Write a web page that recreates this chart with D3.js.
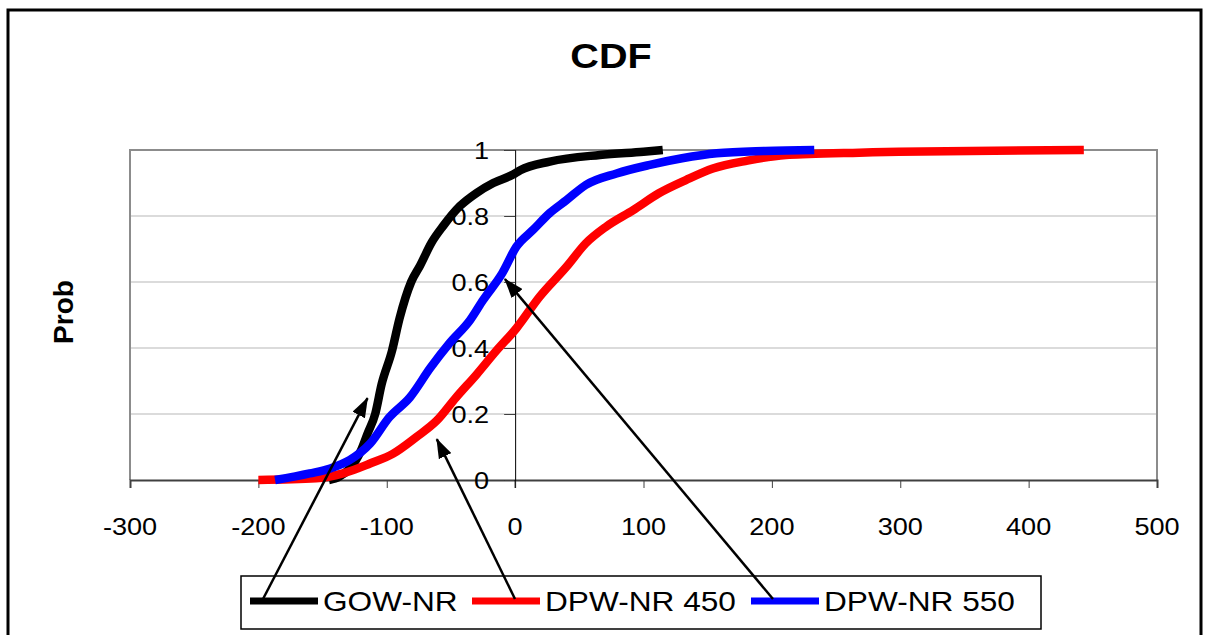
<!DOCTYPE html>
<html>
<head>
<meta charset="utf-8">
<script src="https://cdnjs.cloudflare.com/ajax/libs/d3/7.8.5/d3.min.js"></script>
<style>
  body { margin: 0; background: #fff; }
  #svg-container { width: 1208px; height: 635px; }
  text { font-family: "Liberation Sans", Arial, sans-serif; fill: #000; }
</style>
</head>
<body>
<div id="svg-container"></div>
<script>
// series names (legend order)
var seriesNames = ["GOW-NR", "DPW-NR 450", "DPW-NR 550"];
var seriesColors = ["#000000", "#ff0000", "#0000ff"];

var gowX = [-145, -137, -120, -115, -109, -104, -96, -90, -81, -74, -65, -56, -43, -30, -17, -2, 4, 27, 66, 100, 115];
var gowP = [0, 0.01, 0.09, 0.14, 0.2, 0.29, 0.39, 0.49, 0.6, 0.65, 0.72, 0.77, 0.83, 0.87, 0.9, 0.925, 0.939, 0.965, 0.985, 0.995, 1];

var dpw450X = [-200, -155, -134, -113, -95, -77, -61, -46, -30, -15, 1, 19, 40, 55, 71, 92, 112, 133, 154, 181, 211, 229, 268, 299, 443];
var dpw450P = [0, 0.005, 0.02, 0.05, 0.08, 0.13, 0.18, 0.25, 0.32, 0.39, 0.46, 0.555, 0.646, 0.717, 0.768, 0.818, 0.869, 0.909, 0.944, 0.968, 0.985, 0.988, 0.992, 0.995, 1];

var dpw550X = [-187, -160, -144, -129, -113, -98, -82, -66, -51, -35, -25, -10, 1, 14, 27, 40, 55, 79, 105, 130, 157, 195, 233];
var dpw550P = [0, 0.02, 0.035, 0.06, 0.11, 0.19, 0.25, 0.34, 0.415, 0.485, 0.545, 0.627, 0.707, 0.758, 0.809, 0.848, 0.894, 0.929, 0.955, 0.975, 0.99, 0.997, 1];

// axis ticks
var xTicks = [-300, -200, -100, 0, 100, 200, 300, 400, 500];
var yTicks = [0, 0.2, 0.4, 0.6, 0.8, 1];
var yTickLabels = ["0", "0.2", "0.4", "0.6", "0.8", "1"];

// arrow targets on the curves (data units), one per series
var arrowX = [-115, -61, -8];
var arrowP = [0.248, 0.124, 0.609];

var width = 1208, height = 635;
var plot = { left: 130, right: 1157, top: 150, bottom: 480 };
var stretch = 1.13;

var svg = d3.select("#svg-container")
            .append("svg")
            .attr("width", width)
            .attr("height", height);

var defs = svg.append("defs");
defs.append("marker")
    .attr("id", "arrow")
    .attr("viewBox", "0 0 20 14")
    .attr("refX", 19)
    .attr("refY", 7)
    .attr("markerWidth", 20)
    .attr("markerHeight", 14)
    .attr("markerUnits", "userSpaceOnUse")
    .attr("orient", "auto")
  .append("path")
    .attr("d", "M0,0 L20,7 L0,14 Z")
    .attr("fill", "#000");

// outer frame
svg.append("rect")
   .attr("x", 8).attr("y", 10)
   .attr("width", 1193).attr("height", 640)
   .attr("fill", "none")
   .attr("stroke", "#000")
   .attr("stroke-width", 3);

var scaleX = d3.scaleLinear().domain([-300, 500]).range([plot.left, plot.right]);
var scaleY = d3.scaleLinear().domain([0, 1]).range([plot.bottom, plot.top]);

function stretchedText(x, y, str, sx) {
  return svg.append("text")
    .attr("transform", "translate(" + x + "," + y + ") scale(" + (sx || stretch) + ",1)")
    .text(str);
}

// gridlines
svg.append("g")
   .selectAll("line")
   .data(yTicks.slice(1))
   .enter().append("line")
   .attr("x1", plot.left).attr("x2", plot.right)
   .attr("y1", function(d) { return scaleY(d); })
   .attr("y2", function(d) { return scaleY(d); })
   .attr("stroke", "#cfcfcf")
   .attr("stroke-width", 1.5);

// plot border (top/left/right)
svg.append("path")
   .attr("d", "M" + plot.left + "," + plot.bottom + " V" + plot.top + " H" + plot.right + " V" + plot.bottom)
   .attr("fill", "none")
   .attr("stroke", "#8c8c8c")
   .attr("stroke-width", 2);

// x axis
var xAxis = d3.axisBottom(scaleX).tickValues(xTicks).tickSize(8).tickFormat("");
var gx = svg.append("g")
   .attr("transform", "translate(0," + plot.bottom + ")")
   .call(xAxis);
gx.select(".domain").attr("stroke", "#404040").attr("stroke-width", 2);
gx.selectAll(".tick line").attr("stroke", "#404040").attr("stroke-width", 1);

xTicks.forEach(function(v) {
  stretchedText(scaleX(v), 535, String(v))
    .attr("text-anchor", "middle")
    .attr("font-size", 24);
});

// y axis at x = 0
var yAxis = d3.axisLeft(scaleY).tickValues(yTicks).tickSize(11).tickFormat("");
var gy = svg.append("g")
   .attr("transform", "translate(" + scaleX(0) + ",0)")
   .call(yAxis);
gy.select(".domain").attr("stroke", "#000").attr("stroke-width", 1);
gy.selectAll(".tick line").attr("stroke", "#404040").attr("stroke-width", 1);
svg.append("line")
   .attr("x1", scaleX(0)).attr("x2", scaleX(0))
   .attr("y1", plot.bottom).attr("y2", plot.bottom + 8)
   .attr("stroke", "#000");

yTicks.forEach(function(v, i) {
  stretchedText(scaleX(0) - 26, scaleY(v) + 9, yTickLabels[i])
    .attr("text-anchor", "end")
    .attr("font-size", 24);
});

// curves
var curveLine = d3.line()
   .curve(d3.curveMonotoneX)
   .x(function(d) { return scaleX(d[0]); })
   .y(function(d) { return scaleY(d[1]); });

function drawCurve(xs, ps, color) {
  svg.append("path")
   .datum(d3.zip(xs, ps))
   .attr("fill", "none")
   .attr("stroke", color)
   .attr("stroke-width", 8.5)
   .attr("d", curveLine);
}

drawCurve(gowX, gowP, seriesColors[0]);
drawCurve(dpw450X, dpw450P, seriesColors[1]);
drawCurve(dpw550X, dpw550P, seriesColors[2]);

// title and y label
stretchedText(611, 68, "CDF", 1.1)
   .attr("text-anchor", "middle")
   .attr("font-size", 36)
   .attr("font-weight", "bold");

svg.append("text")
   .attr("transform", "translate(73,312) rotate(-90)")
   .attr("text-anchor", "middle")
   .attr("font-size", 28)
   .attr("font-weight", "bold")
   .text("Prob");

// legend
var legend = { x: 241, y: 576, w: 800, h: 53 };
svg.append("rect")
   .attr("x", legend.x).attr("y", legend.y)
   .attr("width", legend.w).attr("height", legend.h)
   .attr("fill", "#fff")
   .attr("stroke", "#000")
   .attr("stroke-width", 1.5);

var legendLineX = [250, 472, 751];
var arrowTailX = [263, 515, 773];
var legendMidY = 601;

seriesNames.forEach(function(name, i) {
  svg.append("line")
     .attr("x1", legendLineX[i]).attr("x2", legendLineX[i] + 68)
     .attr("y1", legendMidY).attr("y2", legendMidY)
     .attr("stroke", seriesColors[i])
     .attr("stroke-width", 7);
  stretchedText(legendLineX[i] + 73, legendMidY + 10, name)
     .attr("font-size", 28);
});

// arrows from legend to curves
seriesNames.forEach(function(name, i) {
  svg.append("line")
     .attr("x1", arrowTailX[i]).attr("y1", legendMidY - 2)
     .attr("x2", scaleX(arrowX[i])).attr("y2", scaleY(arrowP[i]))
     .attr("stroke", "#000")
     .attr("stroke-width", 2.5)
     .attr("marker-end", "url(#arrow)");
});
</script>
</body>
</html>
